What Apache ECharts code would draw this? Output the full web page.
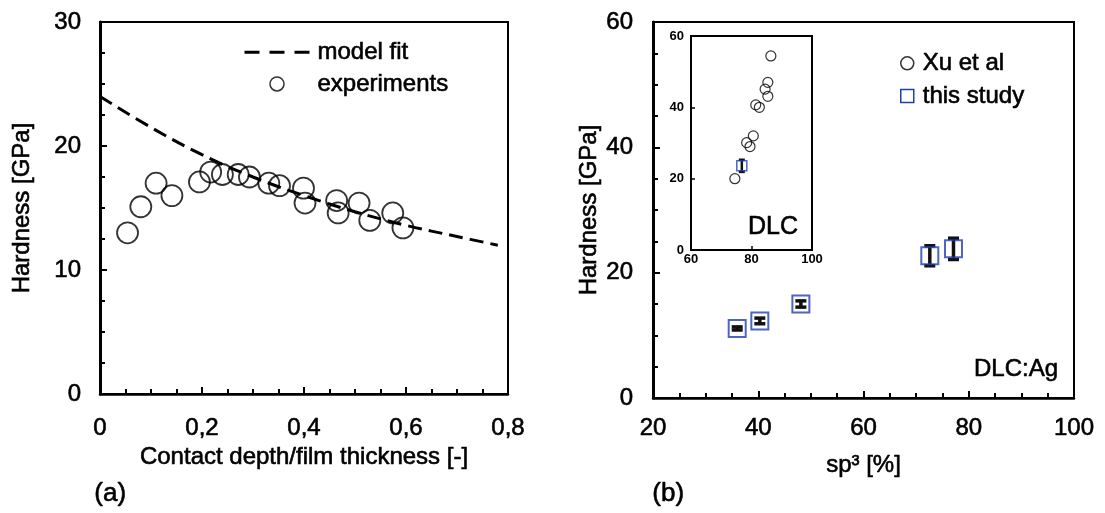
<!DOCTYPE html>
<html>
<head>
<meta charset="utf-8">
<script src="https://cdn.jsdelivr.net/npm/echarts@6/dist/echarts.min.js"></script>
<style>
  html, body { margin: 0; padding: 0; background: #fff; }
  #chart { width: 1105px; height: 513px; }
</style>
</head>
<body>
<div id="chart"></div>
<script>
// (a) hardness versus relative indentation depth
const fitDepth    = [0, 0.1, 0.2, 0.3, 0.4, 0.5, 0.6, 0.7, 0.78];
const fitHardness = [24.0, 21.5, 19.3, 17.5, 16.0, 14.7, 13.6, 12.7, 12.0];
const expDepth    = [0.054, 0.080, 0.110, 0.141, 0.195, 0.217, 0.240, 0.271, 0.293, 0.331,
                     0.352, 0.399, 0.402, 0.464, 0.467, 0.508, 0.529, 0.574, 0.594];
const expHardness = [13.0, 15.1, 17.0, 16.0, 17.1, 17.9, 17.7, 17.7, 17.5, 17.0,
                     16.8, 16.6, 15.4, 15.6, 14.6, 15.4, 14.0, 14.6, 13.4];

// (b) DLC:Ag films, hardness versus sp3 fraction
const agSp3       = [36.0, 40.3, 48.1, 72.6, 77.1];
const agHardness  = [11.1, 12.3, 15.0, 22.7, 23.8];
const agError     = [0.25, 0.45, 0.5, 1.6, 1.7];

// (b) inset: pure DLC
const xuSp3       = [86.4, 85.4, 84.5, 85.4, 81.4, 82.6, 80.6, 78.4, 79.5, 74.5];
const xuHardness  = [54.4, 47.0, 45.1, 43.1, 40.7, 40.0, 32.0, 30.1, 29.0, 20.0];
const dlcSp3      = [76.8];
const dlcHardness = [23.6];
const dlcError    = [1.7];

// tick label text
const depthTicks  = ['0', '0,2', '0,4', '0,6', '0,8'];

const FONT = 'Liberation Sans, Arial, Helvetica, sans-serif';
const BLACK = '#000';
const BLUE = '#1f3fb4';
const HEAVY = { textBorderColor: BLACK, textBorderWidth: 0.6 };

const zip = (a, b) => a.map((v, i) => [v, b[i]]);
const zip3 = (a, b, c) => a.map((v, i) => [v, b[i], c[i]]);

function errorBars(capHalf, width) {
  return function (params, api) {
    const x = api.value(0), y = api.value(1), e = api.value(2);
    const lo = api.coord([x, y - e]);
    const hi = api.coord([x, y + e]);
    const style = { stroke: '#111', lineWidth: width, fill: 'none' };
    return {
      type: 'group',
      children: [
        { type: 'line', shape: { x1: lo[0], y1: lo[1], x2: hi[0], y2: hi[1] }, style },
        { type: 'line', shape: { x1: lo[0] - capHalf, y1: lo[1], x2: lo[0] + capHalf, y2: lo[1] }, style },
        { type: 'line', shape: { x1: hi[0] - capHalf, y1: hi[1], x2: hi[0] + capHalf, y2: hi[1] }, style }
      ]
    };
  };
}

function label(size, margin, extra) {
  return Object.assign({ color: BLACK, fontSize: size, fontFamily: FONT, margin: margin }, HEAVY, extra || {});
}

function mainAxis(opts) {
  return Object.assign({
    type: 'value',
    splitLine: { show: false },
    axisLine: { show: true, onZero: false, lineStyle: { color: BLACK, width: 2.5 } },
    axisTick: { show: true, inside: true, length: 7, lineStyle: { color: BLACK, width: 2 } },
    minorTick: { show: true, splitNumber: 4, length: 5, lineStyle: { color: BLACK, width: 2 } },
    nameLocation: 'middle',
    nameTextStyle: Object.assign({ color: BLACK, fontSize: 24, fontFamily: FONT }, HEAVY)
  }, opts);
}

const chart = echarts.init(document.getElementById('chart'), null, { renderer: 'canvas' });

chart.setOption({
  backgroundColor: '#fff',
  animation: false,
  textStyle: { fontFamily: FONT },
  grid: [
    { left: 100, top: 22, width: 408, height: 372, show: true, borderColor: BLACK, borderWidth: 2, backgroundColor: 'transparent' },
    { left: 653, top: 22, width: 421, height: 376, show: true, borderColor: BLACK, borderWidth: 2, backgroundColor: 'transparent' },
    { left: 691, top: 36, width: 121, height: 214, show: true, borderColor: BLACK, borderWidth: 2, backgroundColor: '#fff', z: 5 }
  ],
  xAxis: [
    mainAxis({
      gridIndex: 0, min: 0, max: 0.8, interval: 0.2,
      axisLabel: label(24, 22, { formatter: (v) => depthTicks[Math.round(v / 0.2)] }),
      name: 'Contact depth/film thickness [-]', nameGap: 41
    }),
    mainAxis({
      gridIndex: 1, min: 20, max: 100, interval: 20,
      axisLabel: label(24, 18),
      name: 'sp\u00B3 [%]', nameGap: 55
    }),
    {
      type: 'value', gridIndex: 2, min: 60, max: 100, interval: 20, z: 6,
      splitLine: { show: false },
      axisLine: { show: true, onZero: false, lineStyle: { color: BLACK, width: 2 } },
      axisTick: { show: true, inside: true, length: 4, lineStyle: { color: BLACK, width: 1.5 } },
      axisLabel: { color: BLACK, fontSize: 13, fontWeight: 'bold', fontFamily: FONT, margin: 3 }
    }
  ],
  yAxis: [
    mainAxis({
      gridIndex: 0, min: 0, max: 30, interval: 10,
      axisLine: { show: true, onZero: false, lineStyle: { color: BLACK, width: 3 } },
      axisLabel: label(24, 19),
      name: 'Hardness [GPa]', nameGap: 66
    }),
    mainAxis({
      gridIndex: 1, min: 0, max: 60, interval: 20,
      axisLine: { show: true, onZero: false, lineStyle: { color: BLACK, width: 3 } },
      axisLabel: label(24, 20),
      name: 'Hardness [GPa]', nameGap: 52
    }),
    {
      type: 'value', gridIndex: 2, min: 0, max: 60, interval: 20, z: 6,
      splitLine: { show: false },
      axisLine: { show: true, onZero: false, lineStyle: { color: BLACK, width: 2 } },
      axisTick: { show: true, inside: true, length: 4, lineStyle: { color: BLACK, width: 1.5 } },
      axisLabel: { color: BLACK, fontSize: 13, fontWeight: 'bold', fontFamily: FONT, margin: 7 }
    }
  ],
  legend: [
    {
      left: 243, top: 40, padding: 0, orient: 'vertical', selectedMode: false,
      itemWidth: 65, itemHeight: 14, itemGap: 7,
      textStyle: Object.assign({ color: BLACK, fontSize: 24, fontFamily: FONT, lineHeight: 24, padding: [0, 0, 0, 3] }, HEAVY),
      data: [
        { name: 'model fit',
          lineStyle: { color: BLACK, width: 3, type: [15, 10] },
          itemStyle: { color: 'rgba(0,0,0,0)', borderWidth: 0 } },
        { name: 'experiments', icon: 'circle',
          itemStyle: { color: 'rgba(0,0,0,0)', borderColor: BLACK, borderWidth: 1.5 } }
      ]
    },
    {
      left: 900, top: 51, padding: 0, orient: 'vertical', selectedMode: false,
      itemWidth: 13, itemHeight: 13, itemGap: 8,
      textStyle: Object.assign({ color: BLACK, fontSize: 24, fontFamily: FONT, lineHeight: 24, padding: [0, 0, 0, 4] }, HEAVY),
      data: [
        { name: 'Xu et al', icon: 'circle', itemStyle: { color: 'rgba(0,0,0,0)', borderColor: BLACK, borderWidth: 1.5 } },
        { name: 'this study', icon: 'rect', itemStyle: { color: 'rgba(0,0,0,0)', borderColor: BLUE, borderWidth: 1.5 } }
      ]
    }
  ],
  graphic: [
    { type: 'text', left: 94, top: 481, style: { text: '(a)', font: '26px ' + FONT, fill: BLACK, stroke: BLACK, lineWidth: 0.6 } },
    { type: 'text', left: 652, top: 481, style: { text: '(b)', font: '26px ' + FONT, fill: BLACK, stroke: BLACK, lineWidth: 0.6 } },
    { type: 'text', z: 20, x: 773, y: 227, style: { text: 'DLC', font: '25px ' + FONT, fill: BLACK, stroke: BLACK, lineWidth: 0.6, align: 'center', verticalAlign: 'middle' } },
    { type: 'text', x: 1058, y: 369, style: { text: 'DLC:Ag', font: '24px ' + FONT, fill: BLACK, stroke: BLACK, lineWidth: 0.6, align: 'right', verticalAlign: 'middle' } }
  ],
  series: [
    {
      name: 'model fit', type: 'line', xAxisIndex: 0, yAxisIndex: 0,
      data: zip(fitDepth, fitHardness), symbol: 'none', smooth: 0.4,
      itemStyle: { color: BLACK },
      lineStyle: { color: BLACK, width: 3, type: [14, 7] }
    },
    {
      name: 'experiments', type: 'scatter', xAxisIndex: 0, yAxisIndex: 0,
      data: zip(expDepth, expHardness), symbol: 'circle', symbolSize: 21,
      itemStyle: { color: 'rgba(0,0,0,0)', borderColor: BLACK, borderWidth: 1.8 }
    },
    {
      name: 'this study', type: 'custom', xAxisIndex: 1, yAxisIndex: 1,
      data: zip3(agSp3, agHardness, agError), renderItem: errorBars(5.5, 3.5), z: 3
    },
    {
      name: 'this study', type: 'scatter', xAxisIndex: 1, yAxisIndex: 1,
      data: zip(agSp3, agHardness), symbol: 'rect', symbolSize: 17, z: 4,
      itemStyle: { color: 'rgba(0,0,0,0)', borderColor: BLUE, borderWidth: 2 }
    },
    {
      name: 'Xu et al', type: 'scatter', xAxisIndex: 2, yAxisIndex: 2, z: 10,
      data: zip(xuSp3, xuHardness), symbol: 'circle', symbolSize: 10,
      itemStyle: { color: 'rgba(0,0,0,0)', borderColor: BLACK, borderWidth: 1.2 }
    },
    {
      name: 'this study', type: 'custom', xAxisIndex: 2, yAxisIndex: 2, z: 10,
      data: zip3(dlcSp3, dlcHardness, dlcError), renderItem: errorBars(3, 2.5)
    },
    {
      name: 'this study', type: 'scatter', xAxisIndex: 2, yAxisIndex: 2, z: 11,
      data: zip(dlcSp3, dlcHardness), symbol: 'rect', symbolSize: 10,
      itemStyle: { color: 'rgba(0,0,0,0)', borderColor: BLUE, borderWidth: 1.5 }
    }
  ]
});
</script>
</body>
</html>
